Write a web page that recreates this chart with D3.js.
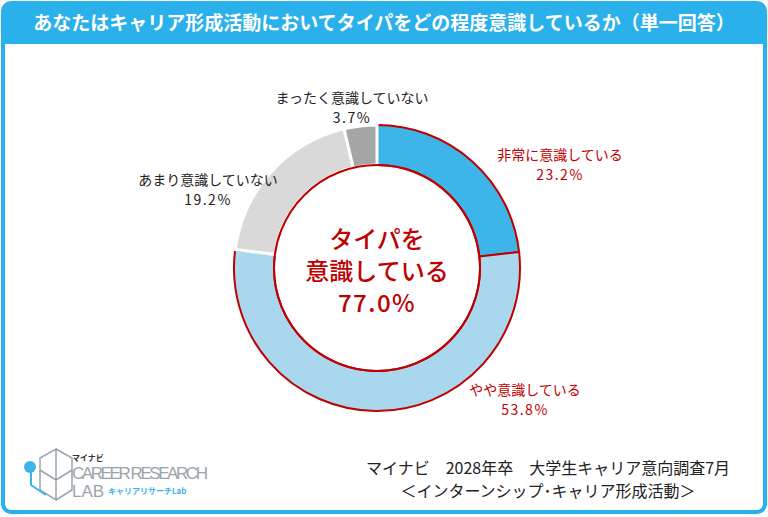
<!DOCTYPE html>
<html><head><meta charset="utf-8">
<script src="https://cdn.jsdelivr.net/npm/d3@7"></script>
<style>body{margin:0;background:#fff;font-family:"Noto Sans CJK JP",sans-serif}</style>
</head><body>
<script>
var labels = ['非常に意識している', 'やや意識している', 'あまり意識していない', 'まったく意識していない'];
var values = [23.2, 53.8, 19.2, 3.7];
var colors = ['#3db5e9', '#a9d8ee', '#d9d9d9', '#a6a6a6'];
var aware = [true, true, false, false];

var w = 768, h = 517, cx = 377, cy = 268;
var svg = d3.select('body').append('svg').attr('width', w).attr('height', h);

svg.append('rect').attr('x', 3).attr('y', 3).attr('width', w - 6).attr('height', h - 8)
  .attr('rx', 8).attr('fill', '#fff').attr('stroke', '#2ab0ea').attr('stroke-width', 4);
svg.append('path').attr('d', 'M3,44 V11 a8,8 0 0 1 8,-8 H757 a8,8 0 0 1 8,8 V44 Z').attr('fill', '#2ab0ea');
svg.append('text').attr('x', w / 2).attr('y', 30).attr('text-anchor', 'middle')
  .attr('fill', '#fff').attr('font-size', 19).attr('font-weight', 'bold')
  .text('あなたはキャリア形成活動においてタイパをどの程度意識しているか（単一回答）');

var pie = d3.pie().sort(null).value(function(d) { return d; });
var arcs = pie(values);
var arc = d3.arc().innerRadius(103).outerRadius(143);
var g = svg.append('g').attr('transform', 'translate(' + cx + ',' + cy + ')');

g.selectAll('path.slice').data(arcs).enter().append('path')
  .attr('d', arc)
  .attr('fill', function(d, i) { return colors[i]; })
  .attr('stroke', function(d, i) { return aware[i] ? '#c00000' : '#fff'; })
  .attr('stroke-width', function(d, i) { return aware[i] ? 2 : 3; });

g.append('path').attr('d', d3.arc().innerRadius(103).outerRadius(103)({startAngle: 0, endAngle: 2 * Math.PI}))
  .attr('fill', 'none').attr('stroke', '#c00000').attr('stroke-width', 2);

var lblPos = [[560, 160, '#c00000'], [525, 395, '#c00000'], [208, 185, '#222'], [352, 103, '#222']];
arcs.forEach(function(d, i) {
  var t = svg.append('text').attr('text-anchor', 'middle').attr('font-size', 14)
    .attr('fill', lblPos[i][2]);
  t.append('tspan').attr('x', lblPos[i][0]).attr('y', lblPos[i][1]).text(labels[i]);
  t.append('tspan').attr('x', lblPos[i][0]).attr('y', lblPos[i][1] + 20)
    .attr('letter-spacing', 1.5).text(values[i].toFixed(1) + '%');
});

var total = d3.sum(values.filter(function(v, i) { return aware[i]; }));
['タイパを', '意識している', total.toFixed(1) + '%'].forEach(function(s, i) {
  svg.append('text').attr('x', cx).attr('y', 248 + i * 32).attr('text-anchor', 'middle')
    .attr('fill', '#c00000').attr('font-size', 24).attr('font-weight', 500)
    .attr('letter-spacing', i === 2 ? 1.5 : 0).text(s);
});

svg.append('text').attr('x', 548).attr('y', 474).attr('text-anchor', 'middle').attr('font-size', 16)
  .attr('fill', '#222').text('マイナビ　2028年卒　大学生キャリア意向調査7月');
svg.append('text').attr('x', 548).attr('y', 497).attr('text-anchor', 'middle').attr('font-size', 16)
  .attr('fill', '#222').text('＜インターンシップ･キャリア形成活動＞');

var lg = svg.append('g');
lg.append('path').attr('d', 'M40,458 L56,449 L56,500 L40,490 Z M56,449 L72,458 L72,490 L56,500 M40,470 L56,480 L72,470')
  .attr('fill', 'none').attr('stroke', '#9aa4ad').attr('stroke-width', 1.5);
lg.append('path').attr('d', 'M31,472 L31,485 L46,495').attr('fill', 'none').attr('stroke', '#3db5e9').attr('stroke-width', 2);
lg.append('circle').attr('cx', 30).attr('cy', 467).attr('r', 6).attr('fill', '#3db5e9');
lg.append('text').attr('x', 72).attr('y', 461).attr('font-size', 8).attr('font-weight', 'bold').attr('fill', '#333').text('マイナビ');
lg.append('text').attr('x', 72).attr('y', 479).attr('font-size', 17).attr('fill', '#9aa4ad')
  .attr('font-family', 'Liberation Sans, sans-serif').attr('textLength', 136).text('CAREER RESEARCH');
lg.append('text').attr('x', 72).attr('y', 497).attr('font-size', 17).attr('fill', '#9aa4ad')
  .attr('font-family', 'Liberation Sans, sans-serif').text('LAB');
lg.append('text').attr('x', 108).attr('y', 494).attr('font-size', 8).attr('font-weight', 'bold').attr('fill', '#3db5e9').text('キャリアリサーチLab');
</script>
</body></html>
